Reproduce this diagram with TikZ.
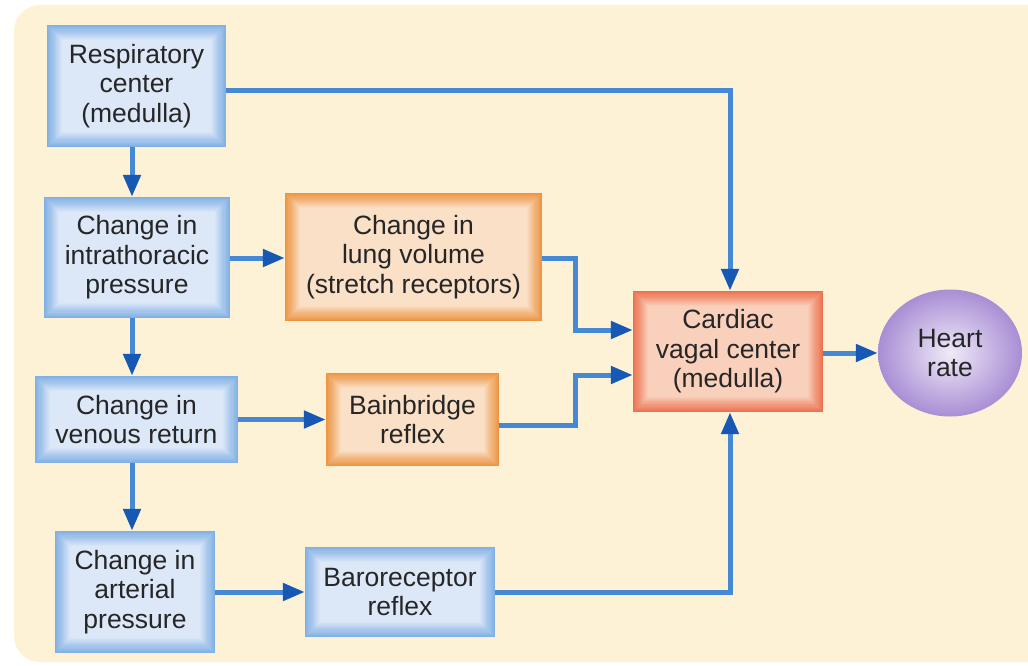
\documentclass[tikz,border=0pt]{standalone}
\usepackage{fontspec}
\setmainfont{Liberation Sans}
\usetikzlibrary{arrows.meta,calc,shapes.geometric}
\definecolor{bgc}{RGB}{253,242,214}
\definecolor{blueedge}{RGB}{128,175,228}
\definecolor{bluein}{RGB}{220,232,248}
\definecolor{orangeedge}{RGB}{236,148,66}
\definecolor{orangein}{RGB}{250,224,198}
\definecolor{rededge}{RGB}{236,112,78}
\definecolor{redin}{RGB}{249,208,188}
\definecolor{purpout}{RGB}{168,142,212}
\definecolor{purpin}{RGB}{240,234,248}
\definecolor{txt}{RGB}{38,38,38}
\definecolor{linec}{RGB}{68,136,214}
\definecolor{tipc}{RGB}{22,88,180}
\tikzset{
  x=1pt, y=-1pt,
  gbox/.style 2 args={
    minimum width=#1, minimum height=#2, inner sep=0pt, align=center,
    text=txt, font=\fontsize{26.5}{29.5}\selectfont
  },
  glow/.style 2 args={
    path picture={
      \foreach \i in {0,...,14} {
        \pgfmathtruncatemacro\p{100-100*\i/14}
        \fill[#1!\p!#2] ($(path picture bounding box.south west)+(\i*1.1pt,\i*1.1pt)$)
          rectangle ($(path picture bounding box.north east)-(\i*1.1pt,\i*1.1pt)$);
      }
    }
  },
  bluebox/.style={glow={blueedge}{bluein}},
  orangebox/.style={glow={orangeedge}{orangein}},
  redbox/.style={glow={rededge}{redin}},
  conn/.style={draw=linec, line width=5pt,
    -{Triangle[length=22pt,width=17pt,color=tipc]}},
}
\begin{document}
\begin{tikzpicture}
\useasboundingbox (0,0) rectangle (1028,665);
\fill[white] (0,0) rectangle (1028,665);
\fill[bgc, rounded corners=26pt] (14,5) rectangle (1060,662);

\node[gbox={179pt}{122pt}, bluebox] (resp) at (136.5,86) {Respiratory\\center\\(medulla)};
\node[gbox={186pt}{121pt}, bluebox] (intra) at (137,257.5) {Change in\\intrathoracic\\pressure};
\node[gbox={257pt}{128pt}, orangebox] (lung) at (413.5,257) {Change in\\lung volume\\(stretch receptors)};
\node[gbox={203pt}{87pt}, bluebox] (venous) at (136.5,419.5) {Change in\\venous return};
\node[gbox={173pt}{93pt}, orangebox] (bain) at (412.5,419.5) {Bainbridge\\reflex};
\node[gbox={160pt}{122pt}, bluebox] (art) at (135,592) {Change in\\arterial\\pressure};
\node[gbox={190pt}{90pt}, bluebox] (baro) at (400,592) {Baroreceptor\\reflex};
\node[gbox={190pt}{121pt}, redbox] (card) at (728,351.5) {Cardiac\\vagal center\\(medulla)};
\node[ellipse, minimum width=144pt, minimum height=127pt, inner sep=0pt,
  shade, inner color=purpin, outer color=purpout, align=center,
  text=txt, font=\fontsize{26.5}{29.5}\selectfont] (heart) at (950,353) {Heart\\rate};

\coordinate (v) at (132,0);
\coordinate (c1) at (730,90);
\coordinate (c2) at (575,258);
\coordinate (c3) at (575,330);
\coordinate (c4) at (575,425);
\coordinate (c5) at (575,375);
\coordinate (c6) at (730,592);
\coordinate (c7) at (0,353);

\draw[conn] (resp.east |- c1) -- (c1) -- (c1 |- card.north);
\draw[conn] (v |- resp.south) -- (v |- intra.north);
\draw[conn] (intra.east |- c2) -- (lung.west |- c2);
\draw[conn] (v |- intra.south) -- (v |- venous.north);
\draw[conn] (lung.east |- c2) -- (c2) -- (c3) -- (card.west |- c3);
\draw[conn] (venous.east) -- (bain.west);
\draw[conn] (bain.east |- c4) -- (c4) -- (c5) -- (card.west |- c5);
\draw[conn] (v |- venous.south) -- (v |- art.north);
\draw[conn] (art.east) -- (baro.west);
\draw[conn] (baro.east) -- (c6) -- (c6 |- card.south);
\draw[conn] (card.east |- c7) -- (heart.west);
\end{tikzpicture}
\end{document}
